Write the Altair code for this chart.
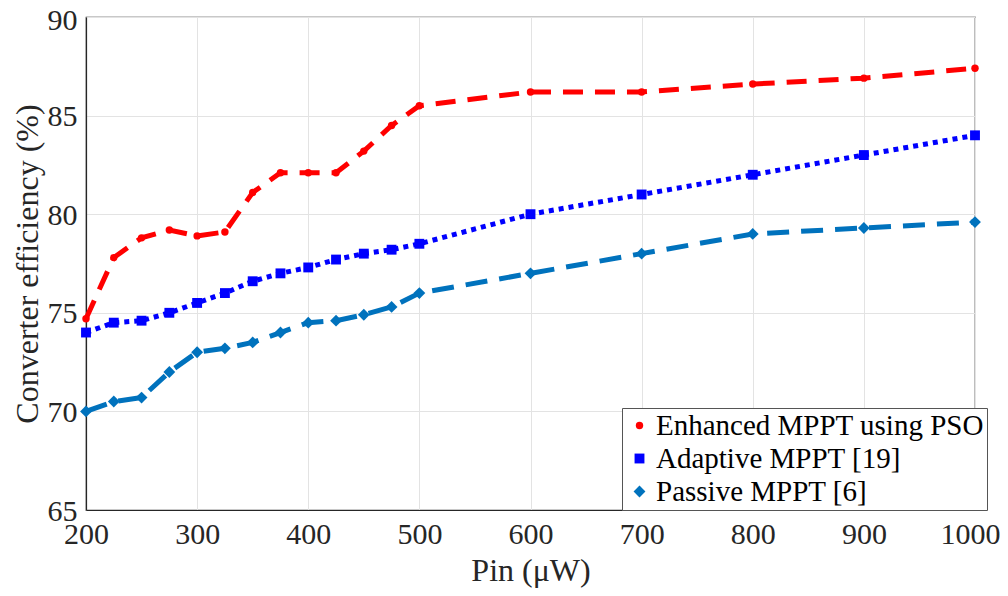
import altair as alt
import pandas as pd

pin = [200, 225, 250, 275, 300, 325, 350, 375, 400, 425, 450, 475, 500, 600, 700, 800, 900, 1000]
enhanced = [74.7, 77.8, 78.8, 79.2, 78.9, 79.1, 81.1, 82.1, 82.1, 82.1, 83.2, 84.5, 85.5, 86.2, 86.2, 86.6, 86.9, 87.4]
adaptive = [74.0, 74.5, 74.6, 75.0, 75.5, 76.0, 76.6, 77.0, 77.3, 77.7, 78.0, 78.2, 78.5, 80.0, 81.0, 82.0, 83.0, 84.0]
passive = [70.0, 70.5, 70.7, 72.0, 73.0, 73.2, 73.5, 74.0, 74.5, 74.6, 74.9, 75.3, 76.0, 77.0, 78.0, 79.0, 79.3, 79.6]

series_names = ["Enhanced MPPT using PSO", "Adaptive MPPT [19]", "Passive MPPT [6]"]
colors = ["#FF0000", "#0000FF", "#0072BD"]
shapes = ["circle", "square", "diamond"]
sizes = [55, 140, 180]
dashes = [[20, 12], [5, 5], [22, 12]]

rows = []
for name, vals in zip(series_names, [enhanced, adaptive, passive]):
    for x, y in zip(pin, vals):
        rows.append({"Pin": x, "Eff": y, "Series": name})
df = pd.DataFrame(rows)

font = "Liberation Serif"
ink = "#262626"
xs = alt.Scale(domain=[200, 1000], nice=False)
ys = alt.Scale(domain=[65, 90], nice=False)

common = dict(labelFont=font, labelFontSize=30, titleFont=font, titleFontSize=32,
              titleFontWeight="normal", labelColor=ink, titleColor=ink,
              domainColor=ink, domainWidth=1.2, ticks=False, gridColor="#e3e3e3")

xax = alt.Axis(values=[200, 300, 400, 500, 600, 700, 800, 900, 1000], title="Pin (\u03bcW)",
               format="d", labelPadding=9, titlePadding=6, labelFlush=False,
               labelOffset={"condition": {"test": "datum.value == 1000", "value": -5}, "value": 0},
               **common)
yax = alt.Axis(values=[65, 70, 75, 80, 85, 90], title="Converter efficiency (%)",
               format="d", labelPadding=9, titlePadding=3,
               labelOffset={"condition": {"test": "datum.value == 90", "value": 3}, "value": 1},
               **common)

leg = alt.Legend(title=None, orient="none", legendX=536, legendY=391,
                 labelFont=font, labelFontSize=29, labelColor="#000000",
                 strokeColor="#555555", fillColor="white", padding=3,
                 symbolStrokeWidth=0, rowPadding=3, labelOffset=2, labelLimit=400,
                 symbolSize=80)

color = alt.Color("Series:N", scale=alt.Scale(domain=series_names, range=colors), legend=leg)
shape = alt.Shape("Series:N", scale=alt.Scale(domain=series_names, range=shapes), legend=leg)
size = alt.Size("Series:N", scale=alt.Scale(domain=series_names, range=sizes), legend=None)
dash = alt.StrokeDash("Series:N", scale=alt.Scale(domain=series_names, range=dashes), legend=None)

base = alt.Chart(df)
lines = base.mark_line(strokeWidth=5).encode(
    x=alt.X("Pin:Q", scale=xs, axis=xax),
    y=alt.Y("Eff:Q", scale=ys, axis=yax),
    color=color,
    strokeDash=dash,
)
points = base.mark_point(filled=True, opacity=1).encode(
    x=alt.X("Pin:Q", scale=xs, axis=xax),
    y=alt.Y("Eff:Q", scale=ys, axis=yax),
    color=color,
    shape=shape,
    size=size,
)

chart = alt.layer(lines, points).properties(
    width=889, height=493,
    padding={"left": 78, "top": 9, "right": 25, "bottom": 80},
    autosize=alt.AutoSizeParams(type="none"),
).configure_view(stroke=ink, strokeWidth=1.2)

chart.save("out.html", embed_options={"renderer": "svg", "actions": False})
